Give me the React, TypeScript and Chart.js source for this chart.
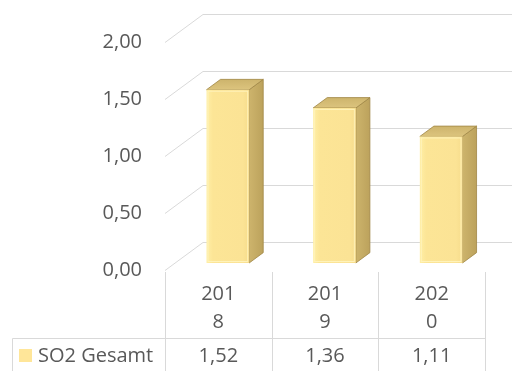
import React, { useEffect, useRef } from "react";
import { Chart, registerables } from "chart.js";

Chart.register(...registerables);

// ---- data ----
const YEARS: string[] = ["2018", "2019", "2020"];
const SO2_TOTAL: number[] = [1.52, 1.36, 1.11];
const SERIES_NAME = "SO2 Gesamt";
const Y_MIN = 0;
const Y_MAX = 2;
const Y_STEP = 0.5;

// ---- style ----
const FONT_FAMILY = '"Open Sans", "DejaVu Sans", sans-serif';
const FONT_SIZE = 20;
const TEXT_COLOR = "#595959";
const GRID_COLOR = "#D9D9D9";
const TABLE_LINE = "#D9D9D9";
const KEY_COLOR = "#FFE699";
const DEPTH_X = 38;
const DEPTH_Y = -28;
const BAR_Z0 = 0.25;
const BAR_DEPTH = 0.37;

const fmt = (v: number) => v.toFixed(2).replace(".", ",");
const wrapYear = (s: string) => [s.slice(0, 3), s.slice(3)];

const box3d = {
  id: "box3d",
  beforeDatasetsDraw(chart: any) {
    const { ctx, chartArea, scales } = chart;
    const y = scales.y;
    ctx.save();
    ctx.strokeStyle = GRID_COLOR;
    ctx.lineWidth = 1;
    for (const t of y.ticks) {
      const py = Math.round(y.getPixelForValue(t.value)) + 0.5;
      const lx = chartArea.left;
      ctx.beginPath();
      ctx.moveTo(lx, py);
      ctx.lineTo(lx + DEPTH_X, py + DEPTH_Y);
      ctx.lineTo(chartArea.right + DEPTH_X, py + DEPTH_Y);
      ctx.stroke();
    }
    ctx.restore();
  },
  afterDatasetsDraw(chart: any) {
    const { ctx } = chart;
    const meta = chart.getDatasetMeta(0);
    ctx.save();
    meta.data.forEach((bar: any) => {
      const { x, y, base, width } = bar.getProps(["x", "y", "base", "width"], true);
      const ox = BAR_Z0 * DEPTH_X;
      const oy = BAR_Z0 * DEPTH_Y;
      const L = x - width / 2 + ox;
      const R = x + width / 2 + ox;
      const T = y + oy;
      const B = base + oy;
      const dx = BAR_DEPTH * DEPTH_X;
      const dy = BAR_DEPTH * DEPTH_Y;

      // side face
      const sg = ctx.createLinearGradient(R, 0, R + dx, 0);
      sg.addColorStop(0, "#CDB46C");
      sg.addColorStop(1, "#BCA25C");
      ctx.fillStyle = sg;
      ctx.beginPath();
      ctx.moveTo(R, T);
      ctx.lineTo(R + dx, T + dy);
      ctx.lineTo(R + dx, B + dy);
      ctx.lineTo(R, B);
      ctx.closePath();
      ctx.fill();
      ctx.strokeStyle = "rgba(160,135,70,0.8)";
      ctx.lineWidth = 1;
      ctx.stroke();

      // top face
      const tg = ctx.createLinearGradient(0, T + dy, 0, T);
      tg.addColorStop(0, "#CDB46C");
      tg.addColorStop(1, "#DCC47E");
      ctx.fillStyle = tg;
      ctx.beginPath();
      ctx.moveTo(L, T);
      ctx.lineTo(L + dx, T + dy);
      ctx.lineTo(R + dx, T + dy);
      ctx.lineTo(R, T);
      ctx.closePath();
      ctx.fill();
      ctx.stroke();

      // front face
      const fg = ctx.createLinearGradient(L, 0, R, 0);
      fg.addColorStop(0, "#FFEFA6");
      fg.addColorStop(0.15, "#FCE596");
      fg.addColorStop(0.85, "#FBE395");
      fg.addColorStop(1, "#F6DC8C");
      ctx.fillStyle = fg;
      ctx.fillRect(L, T, R - L, B - T);
      ctx.strokeStyle = "rgba(255,244,190,0.9)";
      ctx.strokeRect(L + 1.5, T + 1.5, R - L - 3, B - T - 3);
    });
    ctx.restore();
  },
  afterDraw(chart: any) {
    const { ctx, chartArea, scales, height } = chart;
    const xs = scales.x;
    const n = YEARS.length;
    const cw = (chartArea.right - chartArea.left) / n;
    const top = chartArea.bottom + 2;
    const rowY = Math.round(chartArea.bottom + 68) + 0.5;
    const tableLeft = 12.5;
    ctx.save();
    ctx.strokeStyle = TABLE_LINE;
    ctx.lineWidth = 1;
    for (let i = 0; i <= n; i++) {
      const bx = Math.round(chartArea.left + i * cw) + 0.5;
      ctx.beginPath();
      ctx.moveTo(bx, top);
      ctx.lineTo(bx, height);
      ctx.stroke();
    }
    ctx.beginPath();
    ctx.moveTo(tableLeft, rowY);
    ctx.lineTo(Math.round(chartArea.right) + 0.5, rowY);
    ctx.moveTo(tableLeft, rowY);
    ctx.lineTo(tableLeft, height);
    ctx.stroke();

    ctx.fillStyle = TEXT_COLOR;
    ctx.font = `${FONT_SIZE}px ${FONT_FAMILY}`;
    ctx.textAlign = "center";
    ctx.textBaseline = "middle";
    YEARS.forEach((yr, i) => {
      const cx = xs.getPixelForValue(i);
      const lines = wrapYear(yr);
      lines.forEach((ln, j) => {
        ctx.fillText(ln, cx, chartArea.bottom + 24 + j * 28);
      });
      ctx.fillText(fmt(SO2_TOTAL[i]), cx, rowY + 18);
    });

    // legend key + series name
    ctx.fillStyle = KEY_COLOR;
    ctx.fillRect(19, rowY + 10.5, 13, 13);
    ctx.fillStyle = TEXT_COLOR;
    ctx.textAlign = "left";
    ctx.fillText(SERIES_NAME, 38, rowY + 18);
    ctx.restore();
  },
};

export default function App() {
  const ref = useRef<HTMLCanvasElement | null>(null);
  useEffect(() => {
    if (!ref.current) return;
    const chart = new Chart(ref.current, {
      type: "bar",
      data: {
        labels: YEARS,
        datasets: [
          {
            label: SERIES_NAME,
            data: SO2_TOTAL,
            backgroundColor: "rgba(0,0,0,0)",
            borderWidth: 0,
            categoryPercentage: 1,
            barPercentage: 0.4,
          },
        ],
      },
      options: {
        animation: false,
        responsive: false,
        maintainAspectRatio: false,
        layout: { padding: { left: 0, right: 27, top: 42, bottom: 101 } },
        plugins: { legend: { display: false }, tooltip: { enabled: false } },
        scales: {
          x: { display: false },
          y: {
            min: Y_MIN,
            max: Y_MAX,
            afterFit: (s: any) => {
              s.width = 165;
            },
            ticks: {
              stepSize: Y_STEP,
              padding: 23,
              color: TEXT_COLOR,
              font: { family: FONT_FAMILY, size: FONT_SIZE },
              callback: (v: any) => fmt(Number(v)),
            },
            grid: { display: false, drawTicks: false },
            border: { display: false },
          },
        },
      },
      plugins: [box3d],
    });
    return () => chart.destroy();
  }, []);
  return (
    <div style={{ position: "fixed", left: 0, top: 0, width: 512, height: 371, background: "#fff", overflow: "hidden" }}>
      <canvas ref={ref} width={512} height={371} style={{ display: "block" }} />
    </div>
  );
}
